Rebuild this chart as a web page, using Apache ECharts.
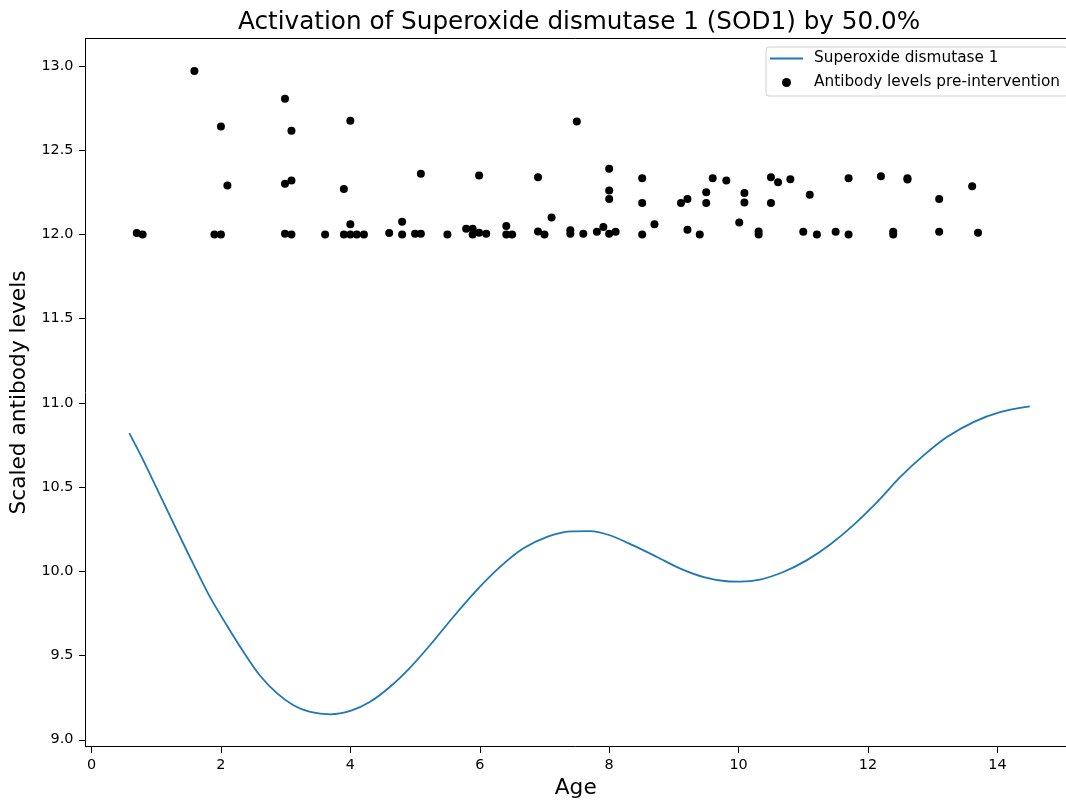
<!DOCTYPE html>
<html>
<head>
<meta charset="utf-8">
<script src="https://cdn.jsdelivr.net/npm/echarts@6/dist/echarts.min.js"></script>
<style>html,body{margin:0;padding:0;background:#fff}#c{width:1066px;height:800px}</style>
</head>
<body>
<div id="c"></div>
<script>
const titleText = 'Activation of Superoxide dismutase 1 (SOD1) by 50.0%';
const lineName = 'Superoxide dismutase 1';
const scatterName = 'Antibody levels pre-intervention';
const xTicks = [0, 2, 4, 6, 8, 10, 12, 14];
const yTicks = [9.0, 9.5, 10.0, 10.5, 11.0, 11.5, 12.0, 12.5, 13.0];

const curveX = [0.584, 0.80, 1.06, 1.32, 1.57, 1.83, 2.09, 2.35, 2.60, 2.86, 3.12, 3.38, 3.69, 4.00, 4.30, 4.61, 4.92, 5.23, 5.59, 5.95, 6.31, 6.67, 7.04, 7.40, 7.70, 8.01, 8.37, 8.74, 9.10, 9.46, 9.82, 10.02, 10.33, 10.69, 11.05, 11.41, 11.77, 12.14, 12.50, 12.86, 13.22, 13.63, 14.04, 14.50];
const curveY = [10.820, 10.659, 10.451, 10.243, 10.046, 9.848, 9.680, 9.521, 9.383, 9.278, 9.205, 9.165, 9.151, 9.171, 9.224, 9.313, 9.427, 9.561, 9.729, 9.887, 10.025, 10.135, 10.204, 10.237, 10.239, 10.214, 10.154, 10.085, 10.016, 9.966, 9.941, 9.939, 9.951, 9.996, 10.065, 10.158, 10.273, 10.411, 10.560, 10.688, 10.797, 10.886, 10.945, 10.979];

const ptsX = [0.70, 0.79, 1.59, 1.90, 2.00, 2.00, 2.10, 2.99, 3.09, 2.99, 3.09, 2.99, 3.09, 3.61, 4.00, 3.90, 3.90, 4.00, 4.00, 4.10, 4.21, 4.60, 4.80, 4.80, 5.00, 5.09, 5.09, 5.50, 5.79, 5.89, 5.89, 5.99, 5.99, 6.10, 6.41, 6.41, 6.50, 6.90, 6.90, 7.00, 7.11, 7.40, 7.40, 7.50, 7.60, 7.81, 7.91, 8.00, 8.00, 8.00, 8.00, 8.10, 8.51, 8.51, 8.51, 8.70, 9.11, 9.21, 9.21, 9.40, 9.50, 9.50, 9.60, 9.81, 10.01, 10.09, 10.09, 10.31, 10.31, 10.50, 10.61, 10.50, 10.80, 11.00, 11.10, 11.21, 11.50, 11.70, 11.70, 12.20, 12.39, 12.39, 12.61, 12.61, 13.10, 13.10, 13.61, 13.70];
const ptsY = [12.008, 12.0, 12.97, 12.0, 12.0, 12.64, 12.29, 12.805, 12.615, 12.30, 12.32, 12.004, 12.0, 12.0, 12.675, 12.27, 12.0, 12.06, 12.0, 12.0, 12.0, 12.008, 12.075, 12.0, 12.004, 12.004, 12.36, 12.0, 12.034, 12.034, 12.0, 12.01, 12.35, 12.004, 12.05, 12.0, 12.0, 12.34, 12.018, 12.0, 12.10, 12.024, 12.004, 12.67, 12.004, 12.016, 12.044, 12.39, 12.26, 12.21, 12.004, 12.016, 12.333, 12.186, 12.0, 12.06, 12.186, 12.21, 12.028, 12.0, 12.25, 12.186, 12.333, 12.32, 12.07, 12.246, 12.19, 12.018, 12.0, 12.34, 12.31, 12.186, 12.327, 12.016, 12.235, 12.0, 12.016, 12.333, 12.0, 12.345, 12.016, 12.0, 12.333, 12.326, 12.21, 12.016, 12.286, 12.01];

const curveData = curveX.map((x, i) => [x, curveY[i]]);
const ptsData = ptsX.map((x, i) => [x, ptsY[i]]);

const font = 'DejaVu Sans';
const xMin = -0.093, xMax = 15.06;
const chart = echarts.init(document.getElementById('c'), null, {renderer: 'canvas'});
chart.setOption({
  animation: false,
  backgroundColor: '#fff',
  title: {
    text: titleText,
    left: 233,
    top: 5,
    textStyle: {fontFamily: font, fontSize: 24.7, fontWeight: 'normal', color: '#000'}
  },
  legend: {
    left: 766,
    top: 47,
    orient: 'vertical',
    padding: [3, 8, 5, 4],
    itemGap: 7,
    itemWidth: 33,
    itemHeight: 9,
    symbolKeepAspect: true,
    borderColor: '#d0d0d0',
    borderWidth: 1,
    borderRadius: 3,
    backgroundColor: 'rgba(255,255,255,0.8)',
    textStyle: {fontFamily: font, fontSize: 15.3, color: '#000', lineHeight: 17, padding: [0, 0, 0, 6]},
    data: [
      {name: lineName, icon: 'path://M0,0L33,0L33,1.8L0,1.8Z'},
      {name: scatterName, icon: 'circle'}
    ]
  },
  grid: {
    left: 85.5,
    right: 0,
    top: 38.5,
    bottom: 53.5,
    show: false,
    containLabel: false,
    outerBoundsMode: 'none'
  },
  xAxis: [{
    type: 'value',
    min: xMin,
    max: xMax,
    name: 'Age',
    nameLocation: 'middle',
    nameGap: 31,
    nameTextStyle: {fontFamily: font, fontSize: 21.7, color: '#000'},
    splitLine: {show: false},
    axisLine: {show: true, onZero: false, lineStyle: {color: '#000', width: 1}},
    axisTick: {show: true, length: 6.5, customValues: xTicks, lineStyle: {color: '#000'}},
    axisLabel: {customValues: xTicks, fontFamily: font, fontSize: 14.4, color: '#000', margin: 12, formatter: v => String(v)}
  }, {
    type: 'value',
    position: 'top',
    min: xMin,
    max: xMax,
    splitLine: {show: false},
    axisLine: {show: true, onZero: false, lineStyle: {color: '#000', width: 1}},
    axisTick: {show: false},
    axisLabel: {show: false}
  }],
  yAxis: {
    type: 'value',
    min: 8.96,
    max: 13.163,
    name: 'Scaled antibody levels',
    nameLocation: 'middle',
    nameGap: 44,
    nameTextStyle: {fontFamily: font, fontSize: 21.7, color: '#000'},
    splitLine: {show: false},
    axisLine: {show: true, onZero: false, lineStyle: {color: '#000', width: 1}},
    axisTick: {show: true, length: 6.5, customValues: yTicks, lineStyle: {color: '#000'}},
    axisLabel: {customValues: yTicks, fontFamily: font, fontSize: 14.4, color: '#000', margin: 12, formatter: v => v.toFixed(1)}
  },
  series: [
    {
      name: lineName,
      type: 'line',
      xAxisIndex: 0,
      data: curveData,
      smooth: 0.3,
      symbol: 'none',
      showSymbol: false,
      lineStyle: {color: '#1f77b4', width: 1.8},
      itemStyle: {color: '#1f77b4'},
      z: 2
    },
    {
      name: scatterName,
      type: 'scatter',
      xAxisIndex: 0,
      data: ptsData,
      symbol: 'circle',
      symbolSize: 8,
      itemStyle: {color: '#000', opacity: 1},
      z: 3
    }
  ]
});
</script>
</body>
</html>
